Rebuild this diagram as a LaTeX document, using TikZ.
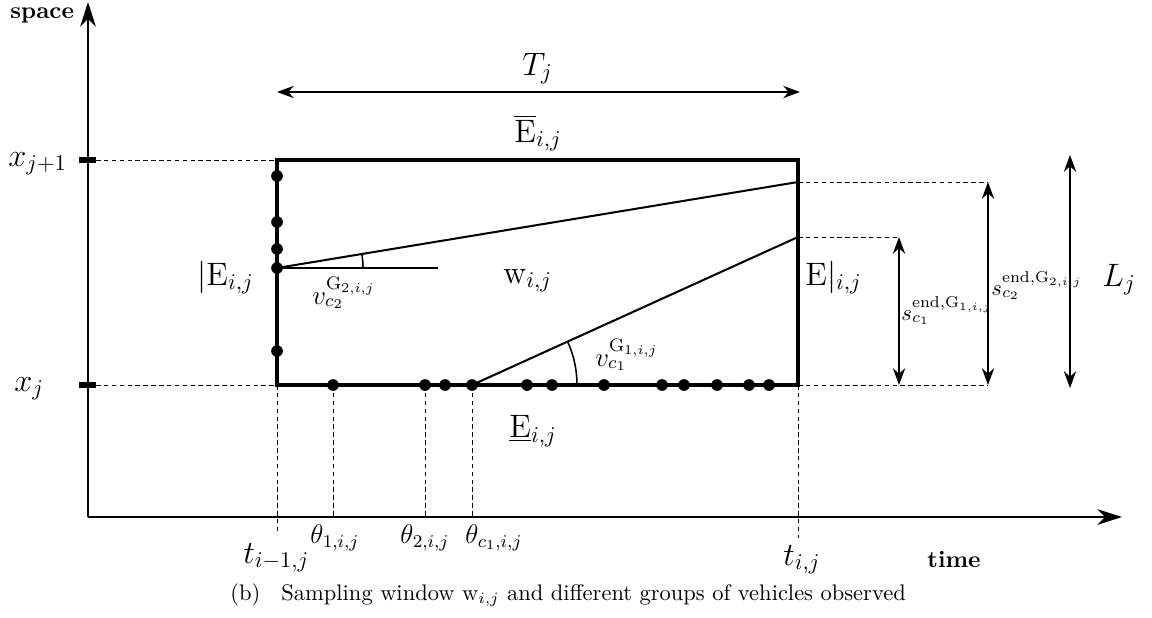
\documentclass[tikz,border=0pt]{standalone}
\usetikzlibrary{arrows.meta}
\begin{document}
\begin{tikzpicture}[x=0.4444pt,y=-0.4444pt,
  axis/.style={line width=0.8pt,-{Stealth[length=11pt,width=7pt,inset=3.5pt]}},
  dim/.style={line width=0.6pt,{Stealth[length=7.5pt,width=5.5pt,inset=2.5pt]}-{Stealth[length=7.5pt,width=5.5pt,inset=2.5pt]}},
  guide/.style={line width=0.4pt,dash pattern=on 2pt off 1.5pt},
  tickmark/.style={line width=2.7pt},
  boxline/.style={line width=1.5pt},
  slant/.style={line width=0.9pt},
  dot/.style={circle,fill=black,inner sep=0pt,minimum size=5.2pt},
  big/.style={anchor=base west,inner sep=0pt,font=\fontsize{14.4}{17}\selectfont},
  mid/.style={anchor=base west,inner sep=0pt,font=\fontsize{12}{14}\selectfont},
  small/.style={anchor=base west,inner sep=0pt,font=\fontsize{10}{12}\selectfont},
  axlabel/.style={anchor=base west,inner sep=0pt,font=\fontsize{10.5}{12}\selectfont\bfseries}]
\useasboundingbox (0,0) rectangle (1152,617);
% axes
\coordinate (O) at (88,517);
\coordinate (Ytop) at (88,2);
\coordinate (Xend) at (1122,517);
\draw[axis] (O) -- (Ytop);
\draw[axis] (O) -- (Xend);
% ticks
\coordinate (tk1a) at (79,160); \coordinate (tk1b) at (96,160);
\coordinate (tk2a) at (79,385); \coordinate (tk2b) at (96,385);
\draw[tickmark] (tk1a) -- (tk1b);
\draw[tickmark] (tk2a) -- (tk2b);
% box corners
\coordinate (TL) at (277,160);
\coordinate (BL) at (277,385);
\coordinate (TR) at (798,160);
\coordinate (BR) at (798,385);
% guides
\draw[guide] (tk1b) -- (TL);
\draw[guide] (tk2b) -- (BL);
\coordinate (gTL) at (277,532);
\coordinate (gTR) at (798,538);
\draw[guide] (BL) -- (gTL);
\draw[guide] (BR) -- (gTR);
\coordinate (b1) at (333,385); \coordinate (b1d) at (333,517);
\coordinate (b2) at (425,385); \coordinate (b2d) at (425,517);
\coordinate (p1) at (472,385); \coordinate (p1d) at (472,517);
\draw[guide] (b1) -- (b1d);
\draw[guide] (b2) -- (b2d);
\draw[guide] (p1) -- (p1d);
% slanted lines
\coordinate (p2) at (277,268);
\coordinate (q2) at (798,182);
\coordinate (q1) at (798,237);
\coordinate (h2) at (438,268);
\draw[slant] (p2) -- (q2);
\draw[slant] (p2) -- (h2);
\draw[slant] (p1) -- (q1);
\draw[line width=0.7pt] (363,268) arc[start angle=0,end angle=-9.37,radius=86];
\draw[line width=0.7pt] (577,385) arc[start angle=0,end angle=-24.4,radius=105];
% right guides and dimension arrows
\coordinate (g2) at (988,182); \coordinate (g1) at (899,237);
\coordinate (g0) at (988,385); \coordinate (g0b) at (899,385);
\draw[guide] (q2) -- (g2);
\draw[guide] (q1) -- (g1);
\draw[guide] (BR) -- (g0);
\draw[dim] (g1) -- (g0b);
\draw[dim] (g2) -- (g0);
\coordinate (Lt) at (1070,155); \coordinate (Lb) at (1070,388);
\draw[dim] (Lt) -- (Lb);
\coordinate (Ta) at (277,92); \coordinate (Tb) at (800,92);
\draw[dim] (Ta) -- (Tb);
% box
\draw[boxline] (TL) -- (TR) -- (BR) -- (BL) -- cycle;
% dots
\foreach \yy [count=\k] in {176,222,249,268,351}
  \node[dot] (dl\k) at (277,\yy) {};
\foreach \xx [count=\k] in {333,425,445,472,527,552,604,662,684,717,749,769}
  \node[dot] (db\k) at (\xx,385) {};
% labels
\node[axlabel] (lspace) at (10,18) {space};
\node[axlabel] (ltime) at (927,567) {time};
\node[big] (lx1) at (8,166) {$x_{j+1}$};
\node[big] (lx0) at (14,391) {$x_j$};
\node[big] (lT) at (522,75) {$T_j$};
\node[big] (lEtop) at (514,142) {$\overline{\mathrm{E}}_{i,j}$};
\node[big] (lEbot) at (509,437) {$\underline{\mathrm{E}}_{i,j}$};
\node[big] (lEl) at (197,285) {$|\mathrm{E}_{i,j}$};
\node[big] (lEr) at (805,285) {$\mathrm{E}|_{i,j}$};
\node[big] (lw) at (503,283) {$\mathrm{w}_{i,j}$};
\node[big] (lL) at (1102,286) {$L_j$};
\node[mid] (lv2) at (312,304) {$v_{c_2}^{\mathrm{G}_{2,i,j}}$};
\node[mid] (lv1) at (595,366) {$v_{c_1}^{\mathrm{G}_{1,i,j}}$};
\node[small] (ls1) at (901,320) {$s_{c_1}^{\mathrm{end},\mathrm{G}_{1,i,j}}$};
\node[small] (ls2) at (991,295) {$s_{c_2}^{\mathrm{end},\mathrm{G}_{2,i,j}}$};
\node[big] (lt0) at (243,563) {$t_{i-1,j}$};
\node[big] (lt1) at (783,565) {$t_{i,j}$};
\node[mid] (lth1) at (310,543) {$\theta_{1,i,j}$};
\node[mid] (lth2) at (400,543) {$\theta_{2,i,j}$};
\node[mid] (lthc) at (465,543) {$\theta_{c_1,i,j}$};
\node[small] (lcap) at (230,600) {(b)\hspace{0.6em} Sampling window $\mathrm{w}_{i,j}$ and different groups of vehicles observed};
\end{tikzpicture}
\end{document}
